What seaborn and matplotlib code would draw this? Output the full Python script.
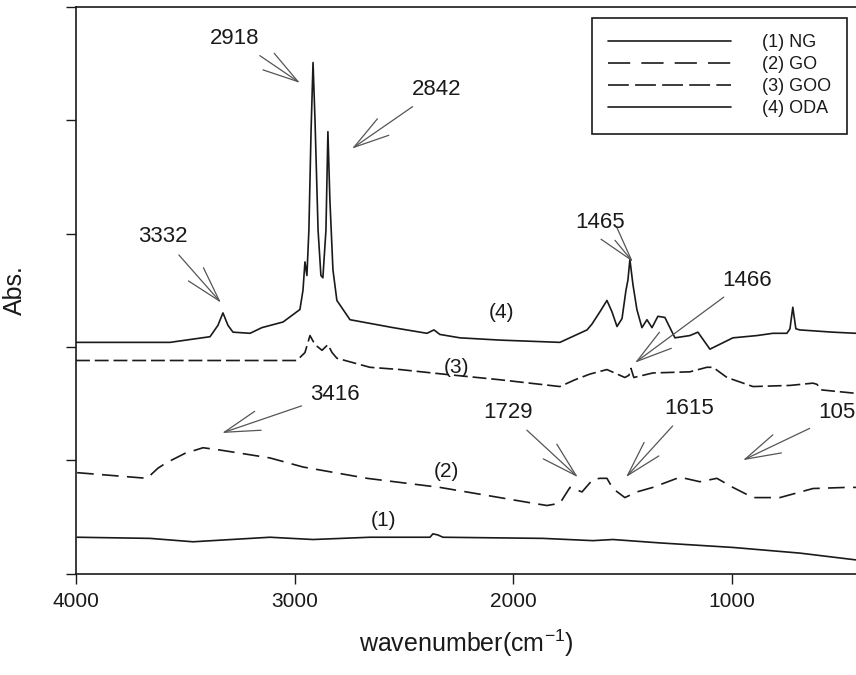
import matplotlib
matplotlib.use("Agg")
import matplotlib.pyplot as plt
from matplotlib.lines import Line2D
import seaborn as sns
import pandas as pd

# ---------------- data ----------------
wn_oda = [4000, 3570, 3387, 3351, 3328, 3305, 3282, 3204, 3150, 3053, 2976, 2962, 2953, 2944,
          2935, 2925, 2916, 2907, 2893, 2880, 2871, 2857, 2848, 2839, 2825, 2807, 2747, 2550,
          2395, 2363, 2336, 2244, 2061, 1787, 1663, 1641, 1604, 1572, 1549, 1526, 1503, 1485,
          1476, 1467, 1453, 1435, 1412, 1389, 1366, 1339, 1307, 1261, 1193, 1156, 1101, 996,
          886, 813, 749, 735, 722, 708, 690, 539, 433]
abs_oda = [2.04, 2.04, 2.09, 2.19, 2.30, 2.19, 2.13, 2.12, 2.17, 2.22, 2.33, 2.50, 2.75, 2.63,
           3.03, 3.91, 4.51, 4.00, 3.03, 2.63, 2.61, 3.03, 3.90, 3.30, 2.68, 2.41, 2.24, 2.17,
           2.12, 2.15, 2.11, 2.08, 2.06, 2.04, 2.15, 2.20, 2.31, 2.41, 2.31, 2.18, 2.25, 2.50,
           2.59, 2.77, 2.55, 2.33, 2.17, 2.24, 2.17, 2.27, 2.26, 2.08, 2.10, 2.13, 1.98, 2.08,
           2.10, 2.12, 2.12, 2.16, 2.35, 2.16, 2.15, 2.13, 2.12]

wn_goo = [4000, 2990, 2953, 2930, 2907, 2875, 2848, 2829, 2807, 2656, 2518, 2322, 2061, 1787,
          1718, 1650, 1572, 1490, 1471, 1462, 1449, 1362, 1193, 1115, 1087, 1023, 904, 735,
          630, 612, 589, 433]
abs_goo = [1.88, 1.88, 1.95, 2.10, 2.02, 1.97, 2.02, 1.95, 1.90, 1.82, 1.80, 1.76, 1.71, 1.65,
           1.71, 1.76, 1.80, 1.73, 1.75, 1.81, 1.73, 1.77, 1.78, 1.82, 1.82, 1.73, 1.65, 1.66,
           1.68, 1.67, 1.62, 1.59]

wn_go = [3995, 3675, 3625, 3584, 3502, 3419, 3342, 3113, 2962, 2669, 2336, 1910, 1846, 1787,
         1741, 1686, 1650, 1636, 1604, 1572, 1545, 1490, 1435, 1362, 1238, 1147, 1069, 996,
         904, 781, 630, 475, 433]
abs_go = [0.89, 0.84, 0.93, 0.98, 1.06, 1.11, 1.09, 1.02, 0.94, 0.84, 0.76, 0.62, 0.60, 0.62,
          0.76, 0.72, 0.80, 0.83, 0.84, 0.84, 0.75, 0.67, 0.72, 0.76, 0.85, 0.81, 0.84, 0.76,
          0.67, 0.67, 0.75, 0.76, 0.76]

wn_ng = [3995, 3662, 3465, 3113, 2916, 2656, 2381, 2368, 2345, 2322, 1865, 1636, 1545, 1330,
         996, 690, 433]
abs_ng = [0.32, 0.31, 0.28, 0.32, 0.30, 0.32, 0.32, 0.35, 0.34, 0.32, 0.31, 0.29, 0.30, 0.27,
          0.23, 0.18, 0.12]

legend_labels = ["(1) NG", "(2) GO", "(3) GOO", "(4) ODA"]
curve_tags = ["(1)", "(2)", "(3)", "(4)"]
x_ticks = [4000, 3000, 2000, 1000]

# peak annotations: label, text position (wn, abs), arrow tip (wn, abs)
peak_labels = ["2918", "2842", "3332", "1465", "1466", "3416", "1729", "1615", "1059"]
peak_text_wn = [3273, 2349, 3602, 1604, 932, 2816, 2025, 1197, 607]
peak_text_y = [4.72, 4.27, 2.97, 3.10, 2.59, 1.58, 1.42, 1.46, 1.42]
peak_tip_wn = [2976, 2738, 3337, 1453, 1444, 3332, 1705, 1485, 950]
peak_tip_y = [4.33, 3.75, 2.39, 2.75, 1.86, 1.24, 0.85, 0.85, 1.00]

# ---------------- style ----------------
sns.set_style("ticks")
plt.rcParams["font.family"] = ["Liberation Sans", "DejaVu Sans"]
plt.rcParams["mathtext.default"] = "regular"
plt.rcParams["lines.scale_dashes"] = False

fig = plt.figure(figsize=(8.56, 6.75), dpi=100)
ax = fig.add_axes([76 / 856, 1 - 573.5 / 675, 1 - 76 / 856, (573.5 - 7) / 675])

ink = "#1a1a1a"
series = [
    (wn_ng, abs_ng, None),
    (wn_go, abs_go, (12, 6)),
    (wn_goo, abs_goo, (10, 3.5)),
    (wn_oda, abs_oda, None),
]
legend_dashes = [None, (16, 8), (15, 4.5), None]
handles = []
for (wn, ab, dash), ldash, lab in zip(series, legend_dashes, legend_labels):
    df = pd.DataFrame({"wn": wn, "abs": ab})
    sns.lineplot(data=df, x="wn", y="abs", ax=ax, color=ink, lw=1.2,
                 estimator=None, sort=False, legend=False)
    ln = ax.lines[-1]
    if dash is not None:
        ln.set_dashes(dash)
    h = Line2D([], [], color=ink, lw=1.2)
    if ldash is not None:
        h.set_dashes(ldash)
    handles.append(h)

ax.set_xlim(4000, 433)
ax.set_ylim(0, 5)
ax.set_xticks(x_ticks)
ax.set_xticklabels([str(t) for t in x_ticks])
ax.set_yticks([0, 1, 2, 3, 4, 5])
ax.set_yticklabels([])
ax.tick_params(axis="both", direction="out", length=7, width=1.0, color=ink,
               labelsize=15, labelcolor=ink, pad=6)
for s in ["left", "bottom", "top"]:
    ax.spines[s].set_color(ink)
    ax.spines[s].set_linewidth(1.2)
ax.spines["right"].set_visible(False)

ax.set_xlabel("wavenumber(cm$^{-1}$)", fontsize=18, color=ink, labelpad=12)
ax.set_ylabel("Abs.", fontsize=18, color=ink, labelpad=22)

# curve tags
tag_wn = [2596, 2308, 2258, 2052]
tag_y = [0.47, 0.90, 1.82, 2.30]
for t, xw, yy in zip(curve_tags, tag_wn, tag_y):
    ax.text(xw, yy, t, fontsize=15, color=ink, ha="center", va="center")

# peak annotations
for lab, tx, ty, px, py in zip(peak_labels, peak_text_wn, peak_text_y, peak_tip_wn, peak_tip_y):
    ha = "left" if lab == "1059" else "center"
    ax.annotate(lab, xy=(px, py), xytext=(tx, ty), fontsize=16, color=ink,
                ha=ha, va="center", annotation_clip=False,
                arrowprops=dict(arrowstyle="->,head_length=1.6,head_width=0.45",
                                color="#555555", lw=0.9, mutation_scale=16,
                                shrinkA=4, shrinkB=0))

leg = ax.legend(handles, legend_labels, loc="upper right",
                bbox_to_anchor=((847 - 76) / 780, (573.5 - 18) / 566.5),
                fontsize=13, frameon=True, fancybox=False, framealpha=1,
                edgecolor=ink, handlelength=6.8, handletextpad=1.7,
                labelspacing=0.28, borderpad=0.9, borderaxespad=0)
leg.get_frame().set_linewidth(1.2)
for t in leg.get_texts():
    t.set_color(ink)

fig.savefig("out.png", dpi=100)
